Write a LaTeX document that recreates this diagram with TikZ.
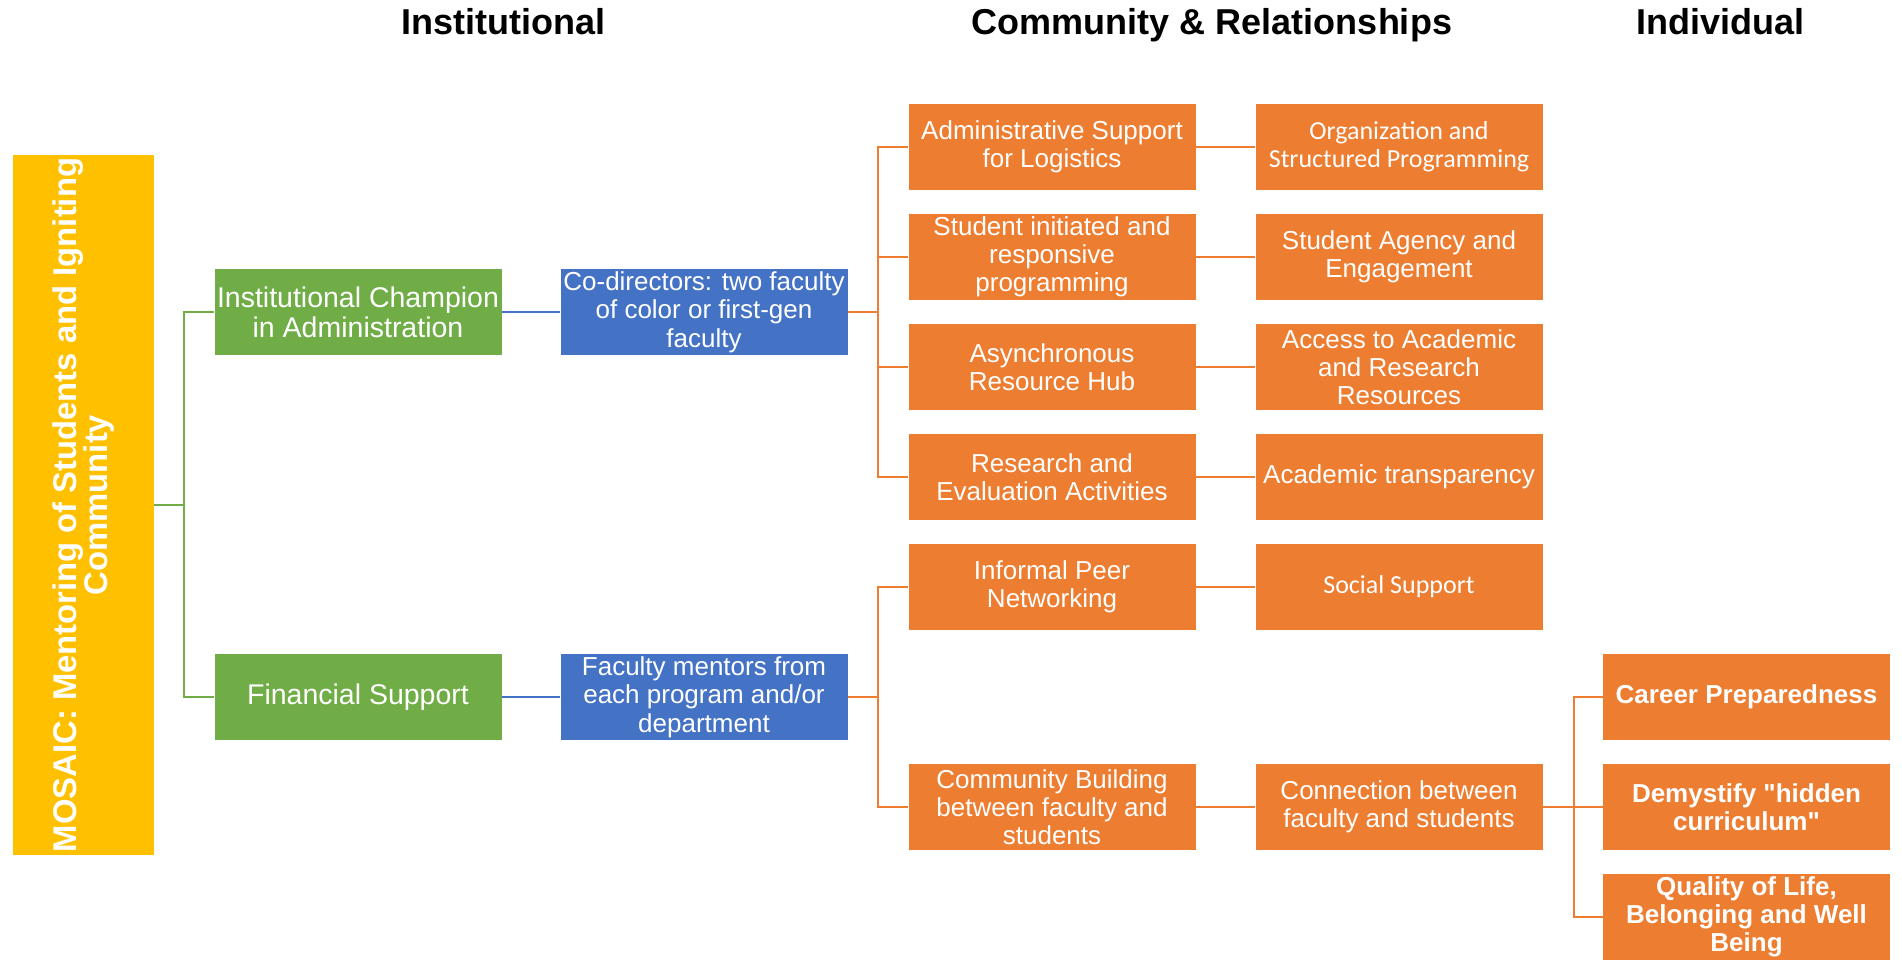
\documentclass[tikz,border=0pt]{standalone}
\usepackage{fontspec}
\setmainfont{Liberation Sans}
\newfontfamily\carl{Carlito}
\newfontfamily\plainsans{Liberation Sans}
\usepackage{tikz}
\usetikzlibrary{positioning}
\definecolor{mgold}{HTML}{FFC000}
\definecolor{mgreen}{HTML}{70AD47}
\definecolor{mblue}{HTML}{4472C4}
\definecolor{morange}{HTML}{ED7D31}
\tikzset{box/.style={rectangle, text=white, align=center, inner sep=1pt, minimum width=287pt, minimum height=86pt, font=\fontsize{26}{28}\selectfont}}
\tikzset{greenbox/.style={box, fill=mgreen, font=\fontsize{28.5}{30}\selectfont}}
\tikzset{bluebox/.style={box, fill=mblue, font=\fontsize{26}{28.5}\selectfont}}
\tikzset{orangebox/.style={box, fill=morange}}
\tikzset{boldbox/.style={box, fill=morange, font=\fontsize{26}{28}\selectfont\plainsans\bfseries}}
\tikzset{title/.style={anchor=base, font=\fontsize{36}{40}\selectfont\bfseries}}
\tikzset{link/.style={line width=2.5pt}}

\begin{document}
\begin{tikzpicture}[x=1pt, y=-1pt]
		\useasboundingbox (0,0) rectangle (1902,974);

		\node[title] (tinst) at (503, 35) {Institutional};
		\node[title] (tcomm) at (1212, 35) {Community \& Relationships};
		\node[title] (tind) at (1720, 35) {Individual};

		\node[rectangle, fill=mgold, minimum width=700pt, minimum height=141pt, inner sep=0pt, rotate=90, text=white, align=center, font=\fontsize{32.8}{29}\selectfont\bfseries] (mosaic) at (83.5, 505) {MOSAIC: Mentoring of Students and Igniting\\Community};

		\node[greenbox] (champ) at (358, 312) {Institutional Champion\\in Administration};
		\node[greenbox] (fin) at (358, 697) {Financial Support};

		\node[bluebox] (codir) at (704, 312) {Co-directors: two faculty\\of color or first-gen\\faculty};
		\node[bluebox] (mentors) at (704, 697) {Faculty mentors from\\each program and/or\\department};

		\node[orangebox] (admin) at (1052, 147) {Administrative Support\\for Logistics};
		\node[orangebox] (initiated) at (1052, 257) {Student initiated and\\responsive\\programming};
		\node[orangebox] (hub) at (1052, 367) {Asynchronous\\Resource Hub};
		\node[orangebox] (research) at (1052, 477) {Research and\\Evaluation Activities};
		\node[orangebox] (peer) at (1052, 587) {Informal Peer\\Networking};
		\node[orangebox] (building) at (1052, 807) {Community Building\\between faculty and\\students};

		\node[orangebox] (organization) at (1399, 147) {\carl Organization and\\\carl Structured Programming};
		\node[orangebox] (agency) at (1399, 257) {Student Agency and\\Engagement};
		\node[orangebox] (access) at (1399, 367) {Access to Academic\\and Research\\Resources};
		\node[orangebox] (transparency) at (1399, 477) {Academic transparency};
		\node[orangebox] (social) at (1399, 587) {\carl Social Support};
		\node[orangebox] (connection) at (1399, 807) {Connection between\\faculty and students};

		\node[boldbox] (career) at (1746.5, 697) {Career Preparedness};
		\node[boldbox] (demystify) at (1746.5, 807) {Demystify "hidden\\curriculum"};
		\node[boldbox] (quality) at (1746.5, 917) {Quality of Life,\\Belonging and Well\\Being};

		\coordinate (jm) at (184, 505);
		\coordinate (jc) at (878, 312);
		\coordinate (jf) at (878, 697);
		\coordinate (jn) at (1574, 807);

		\draw [link, mgreen] (mosaic.south) -- (jm);
		\draw [link, mgreen] (jm) |- (champ);
		\draw [link, mgreen] (jm) |- (fin);
		\draw [link, mblue] (champ) -- (codir);
		\draw [link, mblue] (fin) -- (mentors);

		\draw [link, morange] (codir) -- (jc);
		\draw [link, morange] (jc) |- (admin);
		\draw [link, morange] (jc) |- (initiated);
		\draw [link, morange] (jc) |- (hub);
		\draw [link, morange] (jc) |- (research);
		\draw [link, morange] (mentors) -- (jf);
		\draw [link, morange] (jf) |- (peer);
		\draw [link, morange] (jf) |- (building);

		\draw [link, morange] (admin) -- (organization);
		\draw [link, morange] (initiated) -- (agency);
		\draw [link, morange] (hub) -- (access);
		\draw [link, morange] (research) -- (transparency);
		\draw [link, morange] (peer) -- (social);
		\draw [link, morange] (building) -- (connection);

		\draw [link, morange] (connection) -- (jn);
		\draw [link, morange] (jn) |- (career);
		\draw [link, morange] (jn) |- (demystify);
		\draw [link, morange] (jn) |- (quality);
	\end{tikzpicture}
\end{document}
